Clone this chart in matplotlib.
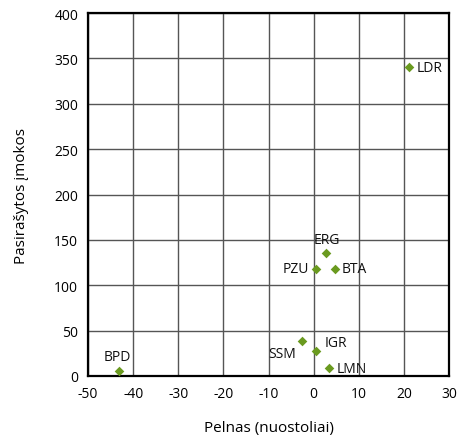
import matplotlib
matplotlib.use("Agg")
import matplotlib.pyplot as plt

names = ["LDR", "BPD", "ERG", "PZU", "BTA", "SSM", "IGR", "LMN"]
profit = [21.2, -43.2, 2.7, 0.5, 4.7, -2.6, 0.5, 3.3]
premiums = [340, 5.5, 135, 118, 118, 39, 27.6, 8.5]
xticks = [-50, -40, -30, -20, -10, 0, 10, 20, 30]
yticks = [0, 50, 100, 150, 200, 250, 300, 350, 400]

label_pos = {
    "LDR": (5, 0, "left", "center"),
    "BPD": (-1, 5, "center", "bottom"),
    "ERG": (1, 5, "center", "bottom"),
    "PZU": (-5, 0, "right", "center"),
    "BTA": (5, 0, "left", "center"),
    "SSM": (-4, -4, "right", "top"),
    "IGR": (6, 1, "left", "bottom"),
    "LMN": (6, 0, "left", "center"),
}

plt.rcParams['font.family'] = ['Open Sans', 'DejaVu Sans']
plt.rcParams['axes.unicode_minus'] = False
fig = plt.figure(figsize=(4.59, 4.39), dpi=100)
ax = fig.add_axes([88/459, 1-377/439, (449-88)/459, (377-14)/439])
ax.scatter(profit, premiums, marker='D', s=24, color='#6a9a1f', zorder=3, linewidths=0)
for n, x, y in zip(names, profit, premiums):
    dx, dy, ha, va = label_pos[n]
    ax.annotate(n, (x, y), xytext=(dx, dy), textcoords='offset points',
                ha=ha, va=va, fontsize=10, color='#111111')
ax.set_xlim(-50, 30)
ax.set_ylim(0, 400)
ax.set_xticks(xticks)
ax.set_yticks(yticks)
ax.grid(True, color='#555555', linewidth=1)
ax.set_axisbelow(True)
for s in ax.spines.values():
    s.set_linewidth(1.6)
    s.set_color('black')
ax.tick_params(length=0, labelsize=10, pad=7)
ax.set_xlabel("Pelnas (nuostoliai)", fontsize=11, labelpad=14)
ax.set_ylabel("Pasirašytos įmokos", fontsize=11, labelpad=18)
fig.savefig("out.png", dpi=100)
